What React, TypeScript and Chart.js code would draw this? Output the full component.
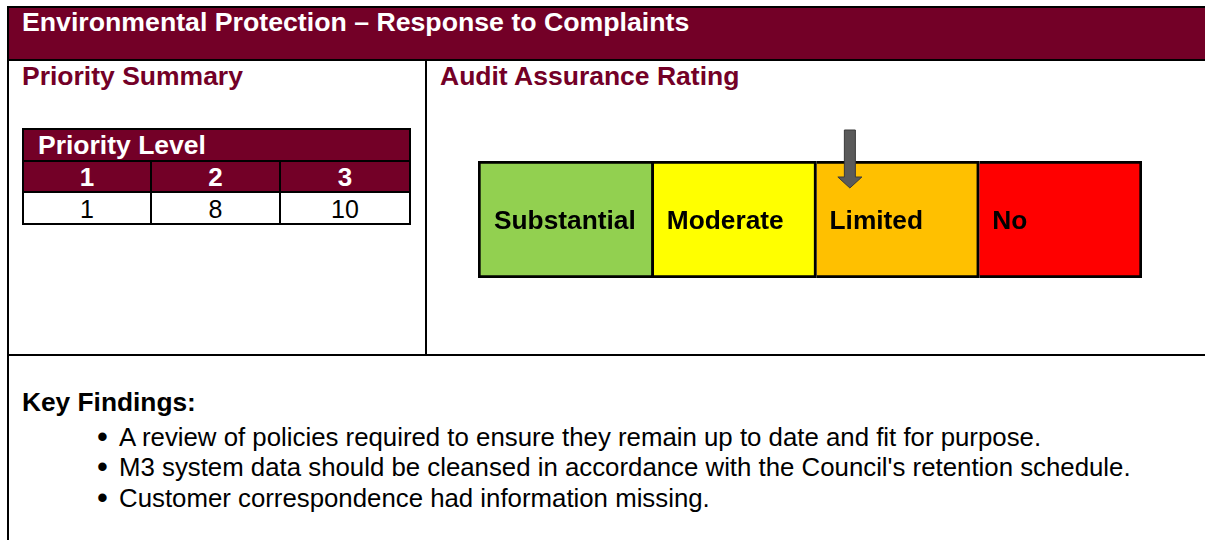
import React, { useEffect, useRef } from "react";
import { Chart, registerables } from "chart.js";

Chart.register(...registerables);

// ---- data ----
const titleText = "Environmental Protection – Response to Complaints";
const leftHeading = "Priority Summary";
const rightHeading = "Audit Assurance Rating";
const priorityTableTitle = "Priority Level";
const priorityLevels = ["1", "2", "3"];
const priorityCounts = [1, 8, 10];
const ratingLabels = ["Substantial", "Moderate", "Limited", "No"];
const ratingSpans = [1.08, 1, 1, 1];
const ratingColors = ["#92D050", "#FFFF00", "#FFC000", "#FF0000"];
const selectedRating = "Limited";
const findingsHeading = "Key Findings:";
const keyFindings = [
  "A review of policies required to ensure they remain up to date and fit for purpose.",
  "M3 system data should be cleansed in accordance with the Council's retention schedule.",
  "Customer correspondence had information missing.",
];

const MAROON = "#730027";
const FONT = "'Liberation Sans', Arial, Helvetica, sans-serif";

const abs = (left: number, top: number, extra: React.CSSProperties = {}): React.CSSProperties => ({
  position: "absolute",
  left,
  top,
  ...extra,
});

const textAt = (left: number, baseline: number, size: number, extra: React.CSSProperties = {}): React.CSSProperties => ({
  position: "absolute",
  left,
  top: baseline - 0.8465 * size,
  fontSize: size,
  lineHeight: `${size}px`,
  whiteSpace: "nowrap",
  ...extra,
});

const labelPlugin = {
  id: "segmentLabels",
  afterDatasetsDraw(chart: any) {
    const ctx = chart.ctx;
    ctx.save();
    ctx.font = `bold 26.3px ${FONT}`;
    ctx.fillStyle = "#000";
    ctx.textBaseline = "alphabetic";
    ctx.textAlign = "left";
    chart.data.datasets.forEach((ds: any, i: number) => {
      const el = chart.getDatasetMeta(i).data[0];
      const p = el.getProps(["x", "y", "base"], true);
      const left = Math.min(p.x, p.base);
      ctx.fillText(ds.label, left + 13 + (i === 0 ? 3 : 0), p.y + 9.5);
    });
    ctx.restore();
  },
};

const arrowPlugin = {
  id: "ratingArrow",
  afterDatasetsDraw(chart: any) {
    const idx = ratingLabels.indexOf(selectedRating);
    if (idx < 0) return;
    const el = chart.getDatasetMeta(idx).data[0];
    const p = el.getProps(["x", "y", "base", "height"], true);
    const left = Math.min(p.x, p.base);
    const w = Math.abs(p.x - p.base);
    const top = p.y - p.height / 2;
    const cx = left + 0.205 * w;
    const ctx = chart.ctx;
    ctx.save();
    ctx.beginPath();
    ctx.moveTo(cx - 5.5, top - 31);
    ctx.lineTo(cx + 5.5, top - 31);
    ctx.lineTo(cx + 5.5, top + 16);
    ctx.lineTo(cx + 12, top + 16);
    ctx.lineTo(cx, top + 27);
    ctx.lineTo(cx - 12, top + 16);
    ctx.lineTo(cx - 5.5, top + 16);
    ctx.closePath();
    ctx.fillStyle = "#5a5a5a";
    ctx.fill();
    ctx.lineWidth = 1;
    ctx.strokeStyle = "#3a3a3a";
    ctx.stroke();
    ctx.restore();
  },
};

function RatingChart() {
  const ref = useRef<HTMLCanvasElement | null>(null);
  useEffect(() => {
    if (!ref.current) return;
    const total = ratingSpans.reduce((a, b) => a + b, 0);
    const chart = new Chart(ref.current, {
      type: "bar",
      data: {
        labels: ["Rating"],
        datasets: ratingLabels.map((lab, i) => ({
          label: lab,
          data: [ratingSpans[i]],
          backgroundColor: ratingColors[i],
          borderColor: "#000",
          borderWidth: { top: 3, bottom: 3, right: 3, left: i === 0 ? 3 : 0 },
          borderSkipped: false,
          barPercentage: 1,
          categoryPercentage: 1,
        })),
      },
      options: {
        indexAxis: "y",
        animation: false,
        responsive: false,
        maintainAspectRatio: false,
        events: [],
        layout: { padding: { left: 18, right: 38, top: 51, bottom: 22 } },
        scales: {
          x: { stacked: true, display: false, min: 0, max: total },
          y: { stacked: true, display: false },
        },
        plugins: { legend: { display: false }, tooltip: { enabled: false } },
      } as any,
      plugins: [labelPlugin, arrowPlugin],
    });
    return () => chart.destroy();
  }, []);
  return (
    <canvas
      ref={ref}
      width={720}
      height={190}
      style={{ position: "absolute", left: 460, top: 110, width: 720, height: 190 }}
    />
  );
}

export default function App() {
  const colBounds = [
    [24, 150],
    [152, 279],
    [281, 409],
  ];
  return (
    <div
      style={{
        position: "absolute",
        left: 0,
        top: 0,
        width: 1205,
        height: 540,
        overflow: "hidden",
        background: "#fff",
        fontFamily: FONT,
      }}
    >
      {/* frame */}
      <div style={abs(7, 6, { width: 2, height: 540, background: "#000" })} />
      <div style={abs(7, 6, { width: 1198, height: 2, background: "#000" })} />
      <div style={abs(9, 8, { width: 1196, height: 51, background: MAROON })} />
      <div style={abs(9, 59, { width: 1196, height: 2, background: "#000" })} />
      <div style={textAt(22, 32, 26.7, { color: "#fff", fontWeight: "bold" })}>{titleText}</div>

      <div style={textAt(22, 85, 26.5, { color: MAROON, fontWeight: "bold" })}>{leftHeading}</div>
      <div style={textAt(440, 85, 26.5, { color: MAROON, fontWeight: "bold" })}>{rightHeading}</div>

      <div style={abs(425, 61, { width: 2, height: 293, background: "#000" })} />
      <div style={abs(9, 354, { width: 1196, height: 2, background: "#000" })} />

      {/* priority table */}
      <div
        style={abs(22, 128, {
          width: 389,
          height: 97,
          border: "2px solid #000",
          boxSizing: "border-box",
        })}
      />
      <div style={abs(24, 130, { width: 385, height: 30, background: MAROON })} />
      <div style={abs(24, 160, { width: 385, height: 2, background: "#000" })} />
      <div style={abs(24, 162, { width: 385, height: 29, background: MAROON })} />
      <div style={abs(24, 191, { width: 385, height: 2, background: "#000" })} />
      <div style={abs(150, 160, { width: 2, height: 63, background: "#000" })} />
      <div style={abs(279, 160, { width: 2, height: 63, background: "#000" })} />
      <div style={textAt(38, 154, 26.5, { color: "#fff", fontWeight: "bold" })}>{priorityTableTitle}</div>
      {priorityLevels.map((lv, i) => (
        <div
          key={"h" + i}
          style={textAt(colBounds[i][0], 186, 26, {
            width: colBounds[i][1] - colBounds[i][0],
            textAlign: "center",
            color: "#fff",
            fontWeight: "bold",
          })}
        >
          {lv}
        </div>
      ))}
      {priorityCounts.map((v, i) => (
        <div
          key={"v" + i}
          style={textAt(colBounds[i][0], 218, 25, {
            width: colBounds[i][1] - colBounds[i][0],
            textAlign: "center",
            color: "#000",
          })}
        >
          {v}
        </div>
      ))}

      <RatingChart />

      {/* key findings */}
      <div style={textAt(22, 411.5, 26.3, { color: "#000", fontWeight: "bold" })}>{findingsHeading}</div>
      {keyFindings.map((f, i) => (
        <React.Fragment key={"f" + i}>
          <div style={textAt(97, 447 + i * 30.5, 31, { color: "#000" })}>•</div>
          <div style={textAt(119, 446.5 + i * 30.5, 25.8, { color: "#000" })}>{f}</div>
        </React.Fragment>
      ))}
    </div>
  );
}
